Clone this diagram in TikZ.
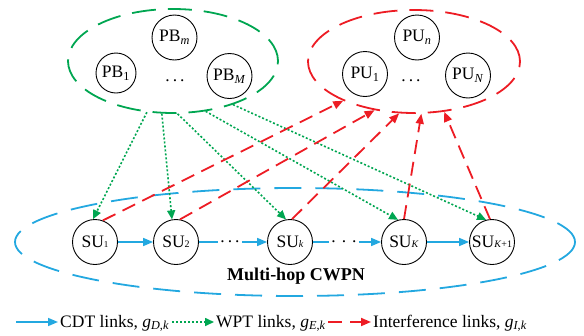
\documentclass[tikz,border=0pt]{standalone}
\usepackage{fontspec}
\setmainfont{Liberation Serif}
\usetikzlibrary{shapes.geometric,arrows.meta}

\definecolor{cdtblue}{RGB}{35,168,224}
\definecolor{wptgreen}{RGB}{0,166,81}
\definecolor{intred}{RGB}{237,28,36}

\tikzset{
  user/.style={circle,draw=black,line width=0.9pt,minimum size=45pt,inner sep=0pt,
    font=\fontsize{17.5}{20}\selectfont},
  group/.style={ellipse,draw,line width=1.8pt,inner sep=0pt,dash pattern=on 24pt off 12pt},
  dotsnode/.style={inner sep=0pt,font=\fontsize{17.5}{20}\selectfont},
  hopdots/.style={inner xsep=2pt,inner ysep=0pt,text height=1.5pt,text depth=0pt,
    font=\fontsize{17.5}{20}\selectfont},
  cdt/.style={draw=cdtblue,line width=1.6pt},
  cdtarrow/.style={cdt,-{Triangle[length=10pt,width=8pt]}},
  wpt/.style={draw=wptgreen,line width=1.6pt,dash pattern=on 2pt off 2pt,
    -{Triangle[length=9pt,width=8pt]}},
  interf/.style={draw=intred,line width=1.8pt,dash pattern=on 14pt off 8pt,
    -{Triangle[length=10pt,width=8pt]}},
  legendtext/.style={anchor=west,inner sep=2pt,text height=12pt,text depth=2pt,
    font=\fontsize{17.5}{20}\selectfont},
}

\begin{document}
\begin{tikzpicture}[x=1pt,y=-1pt]
  \useasboundingbox (0,0) rectangle (584,335);

  % groups
  \node[group,draw=wptgreen,minimum width=210pt,minimum height=104pt] (PBgroup) at (173,61) {};
  \node[group,draw=intred,minimum width=212pt,minimum height=103pt] (PUgroup) at (414,61.5) {};
  \node[group,draw=cdtblue,dash pattern=on 27pt off 14pt,minimum width=560pt,minimum height=108pt] (SUgroup) at (295,242) {};

  % power beacons
  \node[user,minimum size=40pt] (PB1) at (116,73) {PB\textsubscript{1}};
  \node[user] (PBm) at (174.5,37.5) {PB\textsubscript{\textit{m}}};
  \node[user] (PBM) at (229.5,76) {PB\textsubscript{\textit{M}}};
  \node[dotsnode] (PBdots) at (175,81) {.\hspace{3pt}.\hspace{3pt}.};

  % primary users
  \node[user] (PU1) at (365,74) {PU\textsubscript{1}};
  \node[user] (PUn) at (417,37.5) {PU\textsubscript{\textit{n}}};
  \node[user] (PUN) at (468,75.5) {PU\textsubscript{\textit{N}}};
  \node[dotsnode] (PUdots) at (411,81) {.\hspace{3pt}.\hspace{3pt}.};

  % secondary users
  \node[user] (SU1) at (95,242) {SU{\fontsize{9}{10}\selectfont 1}};
  \node[user] (SU2) at (176,242) {SU{\fontsize{10}{10}\selectfont 2}};
  \node[user] (SUk) at (290,242) {SU{\fontsize{10}{10}\selectfont\textit{k}}};
  \node[user] (SUK) at (404,242) {SU{\fontsize{10}{10}\selectfont\textit{K}}};
  \node[user] (SUK1) at (492,242) {SU{\fontsize{10}{10}\selectfont\textit{K}+1}};
  \node[hopdots] (d1) at (230,242) {.\hspace{3pt}.\hspace{3pt}.};
  \node[hopdots] (d2) at (344,242) {.\hspace{6pt}.\hspace{6pt}.};

  \node[font=\bfseries\fontsize{18}{21}\selectfont] (net) at (296,276) {Multi-hop CWPN};

  % CDT links
  \draw[cdtarrow] (SU1) -- (SU2);
  \draw[cdt] (SU2) -- (d1.west);
  \draw[cdtarrow] (d1.east) -- (SUk);
  \draw[cdt] (SUk) -- (d2.west);
  \draw[cdtarrow] (d2.east) -- (SUK);
  \draw[cdtarrow] (SUK) -- (SUK1);

  % WPT links
  \draw[wpt] (PBgroup.243) -- (SU1.95);
  \draw[wpt] (PBgroup.258.5) -- (SU2.100);
  \draw[wpt] (PBgroup.275) -- (SUk.100);
  \draw[wpt] (PBgroup.303) -- (SUK.105);
  \draw[wpt] (PBgroup.324.6) -- (SUK1.105);

  % interference links
  \draw[interf] (SU1.70) -- (PUgroup.209);
  \draw[interf] (SU2.80) -- (PUgroup.231);
  \draw[interf] (SUk.85) -- (PUgroup.254);
  \draw[interf] (SUK.90) -- (PUgroup.278);
  \draw[interf] (SUK1.95) -- (PUgroup.301.5);

  % legend
  \coordinate (lcdt) at (16,322);
  \node[legendtext] (tcdt) at (58,322) {CDT links, \textit{g}\textsubscript{\textit{D},\textit{k}}};
  \draw[cdtarrow] (lcdt) -- (tcdt.west);
  \coordinate (lwpt) at (172,322);
  \node[legendtext] (twpt) at (214,322) {WPT links, \textit{g}\textsubscript{\textit{E},\textit{k}}};
  \draw[wpt] (lwpt) -- (twpt.west);
  \coordinate (lint) at (328,322);
  \node[legendtext] (tint) at (371,322) {Interference links, \textit{g}\textsubscript{\textit{I},\textit{k}}};
  \draw[interf] (lint) -- (tint.west);
\end{tikzpicture}
\end{document}
